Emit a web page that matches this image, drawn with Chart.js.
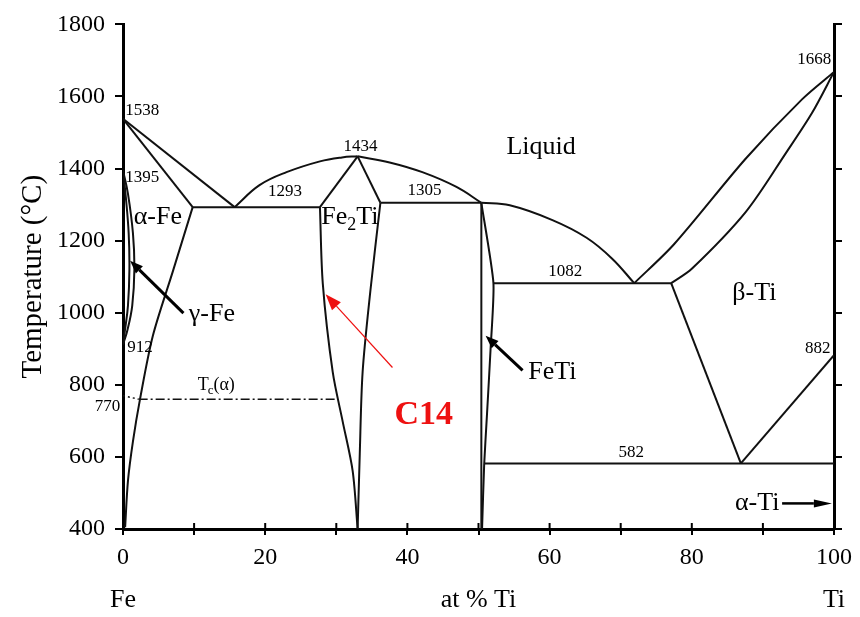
<!DOCTYPE html>
<html><head><meta charset="utf-8">
<script src="https://cdn.jsdelivr.net/npm/chart.js@4/dist/chart.umd.min.js"></script>
<style>html,body{margin:0;padding:0;background:#fff}</style>
</head><body>
<canvas id="c" width="860" height="617"></canvas>
<script>
// ---------- DATA (at % Ti, temperature °C) ----------
const xTicksMajor = [0, 20, 40, 60, 80, 100];
const yTicks = [400, 600, 800, 1000, 1200, 1400, 1600, 1800];

const liqFe_x = [0, 15.7];               const liqFe_T = [1538, 1293];
const solFe_x = [0, 9.8];                const solFe_T = [1538, 1293];
const eut1293_x = [9.8, 27.7];           const eut1293_T = [1293, 1293];
const liqFe2TiL_x = [15.7, 19.2, 23.0, 27.7, 30.8, 33.0];
const liqFe2TiL_T = [1293, 1354, 1390, 1420, 1431, 1434];
const liqFe2TiR_x = [33.0, 37.5, 42.1, 46.9, 50.4];
const liqFe2TiR_T = [1434, 1417, 1390, 1349, 1305];
const liqFeTi_x = [50.4, 54.4, 60.4, 65.2, 68.8, 71.9];
const liqFeTi_T = [1305, 1298, 1257, 1208, 1150, 1082];
const liqBeta_x = [71.9, 77.5, 87.6, 95.5, 100];
const liqBeta_T = [1082, 1190, 1428, 1592, 1668];
const solBeta_x = [77.1, 80.0, 87.6, 93.3, 96.9, 100];
const solBeta_T = [1082, 1122, 1280, 1445, 1554, 1668];
const eut1082_x = [52.1, 77.1];          const eut1082_T = [1082, 1082];
const betaSolvus_x = [77.1, 86.9];       const betaSolvus_T = [1082, 582];
const eut582_x = [50.9, 100];            const eut582_T = [582, 582];
const alphaTi_x = [86.9, 100];           const alphaTi_T = [582, 882];
const fe2TiTopL_x = [27.7, 33.0];        const fe2TiTopL_T = [1293, 1434];
const fe2TiTopR_x = [33.0, 36.2];        const fe2TiTopR_T = [1434, 1305];
const fe2TiL_x = [27.7, 28.1, 29.5, 30.9, 32.3, 33.0];
const fe2TiL_T = [1293, 1081, 835, 698, 561, 400];
const fe2TiR_x = [36.2, 34.8, 33.7, 33.3, 33.0];
const fe2TiR_T = [1305, 1062, 835, 608, 400];
const eut1305_x = [36.2, 50.4];          const eut1305_T = [1305, 1305];
const feTiL_x = [50.4, 50.4];            const feTiL_T = [1305, 400];
const feTiR_x = [50.4, 52.1, 51.7, 51.2, 50.8, 50.5];
const feTiR_T = [1305, 1082, 900, 720, 580, 400];
const alphaFeSolvus_x = [9.8, 7.0, 4.2, 2.4, 1.4, 0.7, 0.3];
const alphaFeSolvus_T = [1293, 1114, 936, 761, 643, 534, 405];
const gammaOuter_x = [0, 0.7, 1.4, 1.6, 1.3, 0.6, 0];
const gammaOuter_T = [1395, 1330, 1220, 1120, 1020, 950, 912];
const gammaInner_x = [0, 0.4, 0.8, 0.9, 0.7, 0.3, 0];
const gammaInner_T = [1395, 1320, 1220, 1120, 1020, 955, 912];
const curieDot_x = [0, 2.2];             const curieDot_T = [770, 760];
const curieLine_x = [2.2, 30.2];         const curieLine_T = [760, 760];

// annotation anchors (data units)
const tempLabels = ['1538', '1395', '912', '770', '1293', '1434', '1305', '1082', '882', '1668', '582'];
const tempLabel_x = [0.3, 0.3, 0.6, -0.4, 22.8, 33.4, 42.4, 62.2, 99.5, 99.6, 71.5];
const tempLabel_T = [1562, 1376, 903, 739, 1335, 1461, 1338, 1114, 900, 1702, 611];
const phaseLabels = ['α-Fe', 'γ-Fe', 'Liquid', 'β-Ti', 'FeTi', 'α-Ti'];
const phaseLabel_x = [4.9, 12.5, 58.8, 88.8, 60.4, 89.2];
const phaseLabel_T = [1264, 996, 1458, 1053, 835, 471];
const arrows_from_x = [8.5, 56.2, 92.7, 37.9];
const arrows_from_T = [999, 840, 471, 848];
const arrows_to_x = [1.0, 51.0, 99.7, 28.5];
const arrows_to_T = [1144, 936, 471, 1051];

// ---------- BUILD ----------
function pts(xs, ts) { return xs.map((x, i) => ({x: x, y: ts[i]})); }
const lines = [
  [liqFe_x, liqFe_T, 0], [solFe_x, solFe_T, 0], [eut1293_x, eut1293_T, 0],
  [liqFe2TiL_x, liqFe2TiL_T, 0.4], [liqFe2TiR_x, liqFe2TiR_T, 0.4], [liqFeTi_x, liqFeTi_T, 0.4],
  [liqBeta_x, liqBeta_T, 0.3], [solBeta_x, solBeta_T, 0.3], [eut1082_x, eut1082_T, 0],
  [betaSolvus_x, betaSolvus_T, 0], [eut582_x, eut582_T, 0], [alphaTi_x, alphaTi_T, 0],
  [fe2TiTopL_x, fe2TiTopL_T, 0], [fe2TiTopR_x, fe2TiTopR_T, 0], [fe2TiL_x, fe2TiL_T, 0.3],
  [fe2TiR_x, fe2TiR_T, 0.3], [eut1305_x, eut1305_T, 0], [feTiL_x, feTiL_T, 0],
  [feTiR_x, feTiR_T, 0.2], [alphaFeSolvus_x, alphaFeSolvus_T, 0.3],
  [gammaOuter_x, gammaOuter_T, 0.4], [gammaInner_x, gammaInner_T, 0.4]
];
const datasets = lines.map(l => ({
  data: pts(l[0], l[1]), showLine: true, borderColor: '#111', borderWidth: 2,
  pointRadius: 0, tension: l[2], fill: false
}));
datasets.push({data: pts(curieDot_x, curieDot_T), showLine: true, borderColor: '#111', borderWidth: 1.5,
  borderDash: [2, 3], pointRadius: 0});
datasets.push({data: pts(curieLine_x, curieLine_T), showLine: true, borderColor: '#111', borderWidth: 1.5,
  borderDash: [9, 3, 2, 3], pointRadius: 0});

const SERIF = "'Liberation Serif', 'Times New Roman', serif";

const deco = {
  id: 'deco',
  afterDraw(chart) {
    const ctx = chart.ctx, xs = chart.scales.x, ys = chart.scales.y;
    const px = v => xs.getPixelForValue(v), py = v => ys.getPixelForValue(v);
    const ca = chart.chartArea;
    ctx.save();
    // inner parts of x ticks
    ctx.strokeStyle = '#000'; ctx.lineWidth = 2;
    for (let v = 0; v <= 100; v += 10) {
      ctx.beginPath(); ctx.moveTo(px(v), ca.bottom); ctx.lineTo(px(v), ca.bottom - 6); ctx.stroke();
    }
    ctx.fillStyle = '#000';
    function text(s, x, y, size, align, base, font) {
      ctx.font = (font || '') + size + 'px ' + SERIF;
      ctx.textAlign = align || 'center'; ctx.textBaseline = base || 'middle';
      ctx.fillText(s, x, y);
    }
    // temperature labels
    const tAlign = ['left', 'left', 'left', 'right', 'center', 'center', 'center', 'center', 'right', 'right', 'center'];
    tempLabels.forEach((s, i) => text(s, px(tempLabel_x[i]), py(tempLabel_T[i]), 17, tAlign[i]));
    // phase labels
    phaseLabels.forEach((s, i) => text(s, px(phaseLabel_x[i]), py(phaseLabel_T[i]), 26, 'center'));
    // Fe2Ti with subscript
    {
      let x = px(27.9), y = py(1264);
      ctx.font = '26px ' + SERIF; ctx.textAlign = 'left'; ctx.textBaseline = 'middle';
      ctx.fillText('Fe', x, y); x += ctx.measureText('Fe').width;
      ctx.font = '18px ' + SERIF; ctx.fillText('2', x, y + 8); x += ctx.measureText('2').width;
      ctx.font = '26px ' + SERIF; ctx.fillText('Ti', x, y);
    }
    // Tc(alpha)
    {
      let x = px(10.5), y = py(800);
      ctx.font = '18px ' + SERIF; ctx.textAlign = 'left'; ctx.textBaseline = 'middle';
      ctx.fillText('T', x, y); x += ctx.measureText('T').width - 1;
      ctx.font = '13px ' + SERIF; ctx.fillText('c', x, y + 6); x += ctx.measureText('c').width;
      ctx.font = '18px ' + SERIF; ctx.fillText('(α)', x, y);
    }
    // C14
    ctx.fillStyle = '#ee1111';
    text('C14', px(42.3), py(717), 34, 'center', 'middle', 'bold ');
    // arrows
    function arrow(i, color, lw, hl, hw) {
      const x1 = px(arrows_from_x[i]), y1 = py(arrows_from_T[i]);
      const x2 = px(arrows_to_x[i]), y2 = py(arrows_to_T[i]);
      const a = Math.atan2(y2 - y1, x2 - x1);
      const bx = x2 - hl * Math.cos(a), by = y2 - hl * Math.sin(a);
      ctx.strokeStyle = color; ctx.fillStyle = color; ctx.lineWidth = lw;
      ctx.beginPath(); ctx.moveTo(x1, y1); ctx.lineTo(bx, by); ctx.stroke();
      ctx.beginPath(); ctx.moveTo(x2, y2);
      ctx.lineTo(bx + hw * Math.sin(a), by - hw * Math.cos(a));
      ctx.lineTo(bx - hw * Math.sin(a), by + hw * Math.cos(a));
      ctx.closePath(); ctx.fill();
    }
    arrow(0, '#000', 3, 13, 5);
    arrow(1, '#000', 3, 13, 5);
    arrow(2, '#000', 2.5, 18, 4);
    arrow(3, '#ee1111', 1.2, 16, 6);
    // axis titles
    ctx.fillStyle = '#000';
    text('Fe', px(0), 600, 26);
    text('at % Ti', px(50), 600, 26);
    text('Ti', px(100), 600, 26);
    ctx.translate(33, (ca.top + ca.bottom) / 2);
    ctx.rotate(-Math.PI / 2);
    text('Temperature (°C)', 0, 0, 29);
    ctx.restore();
  }
};

new Chart(document.getElementById('c'), {
  type: 'scatter',
  data: {datasets: datasets},
  options: {
    responsive: false, animation: false,
    layout: {padding: {top: 17, left: 0, right: 0, bottom: 0}},
    plugins: {legend: {display: false}, tooltip: {enabled: false}},
    scales: {
      x: {
        type: 'linear', min: 0, max: 100, position: 'bottom',
        afterBuildTicks: s => { s.ticks = []; for (let v = 0; v <= 100; v += 10) s.ticks.push({value: v}); },
        ticks: {autoSkip: false, maxRotation: 0, padding: 8, color: '#000',
          font: {family: SERIF, size: 24},
          callback: v => (xTicksMajor.includes(v) ? String(v) : '')},
        grid: {drawOnChartArea: false, drawTicks: true, tickLength: 6, color: '#000', lineWidth: 2},
        border: {display: true, color: '#000', width: 3},
        afterFit: s => { s.height = 88; }
      },
      y: {
        type: 'linear', min: 400, max: 1800, position: 'left',
        afterBuildTicks: s => { s.ticks = yTicks.map(v => ({value: v})); },
        ticks: {padding: 10, color: '#000', font: {family: SERIF, size: 24}, callback: v => String(v)},
        grid: {drawOnChartArea: false, drawTicks: true, tickLength: 8, color: '#000', lineWidth: 2},
        border: {display: true, color: '#000', width: 3},
        afterFit: s => { s.width = 123; }
      },
      y2: {
        type: 'linear', min: 400, max: 1800, position: 'right',
        afterBuildTicks: s => { s.ticks = yTicks.map(v => ({value: v})); },
        ticks: {callback: () => '', padding: 0},
        grid: {drawOnChartArea: false, drawTicks: true, tickLength: 8, color: '#000', lineWidth: 2},
        border: {display: true, color: '#000', width: 3},
        afterFit: s => { s.width = 25; }
      }
    }
  },
  plugins: [deco]
});
</script>
</body></html>
